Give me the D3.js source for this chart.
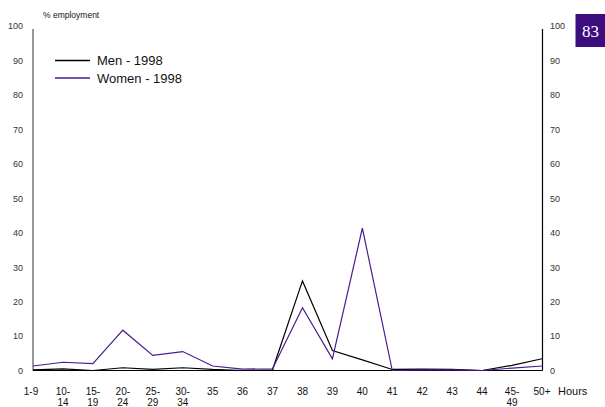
<!DOCTYPE html>
<html><head><meta charset="utf-8">
<script src="https://cdn.jsdelivr.net/npm/d3@7/dist/d3.min.js"></script>
<style>body{margin:0;background:#fff;}svg{display:block;font-family:"Liberation Sans",Arial,sans-serif;}</style>
</head><body>
<script>
const categories = [["1-9"],["10-","14"],["15-","19"],["20-","24"],["25-","29"],["30-","34"],["35"],["36"],["37"],["38"],["39"],["40"],["41"],["42"],["43"],["44"],["45-","49"],["50+"]];
const men =   [0.2,0.5,0,0.8,0.3,0.8,0.3,0,0.2,26,5.8,3.1,0.3,0.4,0.3,0,1.5,3.4];
const women = [1.3,2.4,2.0,11.7,4.4,5.5,1.3,0.4,0.5,18.2,3.4,41.3,0,0.2,0.2,0,0.7,1.3];
const yTicks = [0,10,20,30,40,50,60,70,80,90,100];
const seriesNames = ["Men - 1998","Women - 1998"];
const colors = ["#000000","#4a1a94"];

const W=605,H=407;
const svg=d3.select("body").append("svg").attr("width",W).attr("height",H);
const x=d3.scalePoint().domain(d3.range(categories.length)).range([33,542]);
const y=d3.scaleLinear().domain([0,100]).range([370.5,26]);

// axes
const left=svg.append("g").attr("transform","translate(33,0)").call(d3.axisLeft(y).tickValues(yTicks).tickSize(0).tickPadding(10));
left.selectAll("text").attr("font-size",9).attr("fill","#333");
const right=svg.append("g").attr("transform","translate(542,0)").call(d3.axisRight(y).tickValues(yTicks).tickSize(0).tickPadding(8));
right.selectAll("text").attr("font-size",9).attr("fill","#333");
left.select(".domain").remove(); right.select(".domain").remove();
svg.append("line").attr("x1",33).attr("x2",33).attr("y1",y(100)+3).attr("y2",y(0)).attr("stroke","#777").attr("stroke-width",1.5);
svg.append("line").attr("x1",542.5).attr("x2",542.5).attr("y1",y(100)+3).attr("y2",y(0)).attr("stroke","#000").attr("stroke-width",1.2);
svg.append("line").attr("x1",33).attr("x2",542.5).attr("y1",y(0)).attr("y2",y(0)).attr("stroke","#000").attr("stroke-width",1.2);

// x labels
const xl=svg.append("g");
categories.forEach((c,i)=>{
  const t=xl.append("text").attr("x",x(i)-(i===0?2:0)).attr("y",395).attr("text-anchor","middle").attr("font-size",10).attr("fill","#111");
  c.forEach((s,j)=>t.append("tspan").attr("x",x(i)-(i===0?2:0)).attr("dy",j===0?0:11).text(s));
});
svg.append("text").attr("x",558).attr("y",395).attr("font-size",11).attr("fill","#111").text("Hours");
svg.append("text").attr("x",43).attr("y",18).attr("font-size",8.5).attr("fill","#111").text("% employment");

// lines
const line=d3.line().x((d,i)=>x(i)).y(d=>y(d));
[men,women].forEach((s,k)=>{
  svg.append("path").datum(s).attr("d",line).attr("fill","none").attr("stroke",colors[k]).attr("stroke-width",1.2);
});

// legend
seriesNames.forEach((n,k)=>{
  const ly=60.5+k*17.5;
  svg.append("line").attr("x1",55).attr("x2",90).attr("y1",ly).attr("y2",ly).attr("stroke",colors[k]).attr("stroke-width",1.5);
  svg.append("text").attr("x",97).attr("y",ly+4.5).attr("font-size",13).attr("fill","#111").text(n);
});

// page number box
svg.append("rect").attr("x",575.5).attr("y",14).attr("width",30).attr("height",33).attr("fill","#3c0d7d");
svg.append("text").attr("x",590.5).attr("y",37).attr("text-anchor","middle").attr("font-size",17).attr("font-family","'Liberation Serif',serif").attr("fill","#fff").text("83");
</script>
</body></html>
